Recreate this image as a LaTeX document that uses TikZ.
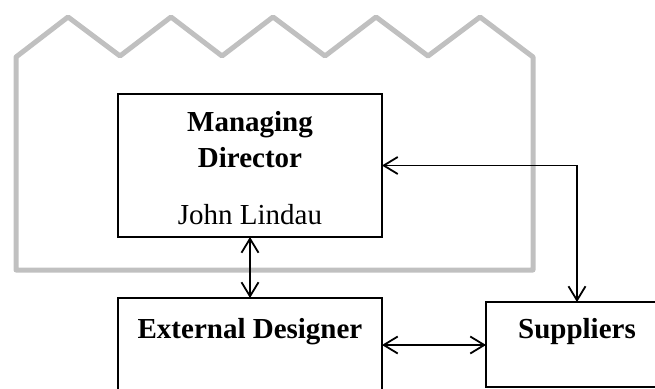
\documentclass[tikz,border=0pt]{standalone}
\usepackage{fontspec}
\setmainfont{Liberation Serif}
\usetikzlibrary{arrows.meta}
\definecolor{wallgray}{RGB}{192,192,192}
\begin{document}
\begin{tikzpicture}[x=1pt,y=-1pt,
  wall/.style={draw=wallgray, line width=5pt, line join=round},
  box/.style={draw, line width=1.6pt, rectangle, inner sep=0pt, outer sep=0pt},
  boxtext/.style={inner sep=0pt, anchor=base, font=\fontsize{29}{35}\selectfont},
  boldtext/.style={boxtext, font=\fontsize{29}{35}\selectfont\bfseries},
  link/.style={line width=1.8pt,
    {Straight Barb[length=14pt,width=17pt]}-{Straight Barb[length=14pt,width=17pt]}},
]
\useasboundingbox (0,0) rectangle (655,388);
\clip (0,0) rectangle (655,388);

% factory outline with saw-tooth roof
\draw[wall] (16,270) -- (16,57) -- (68,17) -- (120,56) -- (171,17) -- (222,56)
  -- (273,17) -- (325,56) -- (376,17) -- (428,56) -- (480,17) -- (533,57)
  -- (533,270) -- cycle;

% boxes
\node[box, minimum width=264pt, minimum height=143pt] (md) at (250,165.5) {};
\node[box, minimum width=264pt, minimum height=142pt] (ed) at (250,369) {};
\node[box, minimum width=182pt, minimum height=85pt] (sup) at (577,344.5) {};

% texts
\node[boldtext] (mdname1) at (250,131) {Managing};
\node[boldtext] (mdname2) at (250,167) {Director};
\node[boxtext] (mdperson) at (250,224) {John Lindau};
\node[boldtext] (edname) at (250,338) {External Designer};
\node[boldtext] (supname) at (577,338) {Suppliers};

% connectors
\coordinate (edsup) at (434,345);
\draw[link] (md.south) -- (ed.north);
\draw[link] (ed.east |- edsup) -- (sup.west |- edsup);
\draw[link] (md.east) -| (sup.north);
\end{tikzpicture}
\end{document}
